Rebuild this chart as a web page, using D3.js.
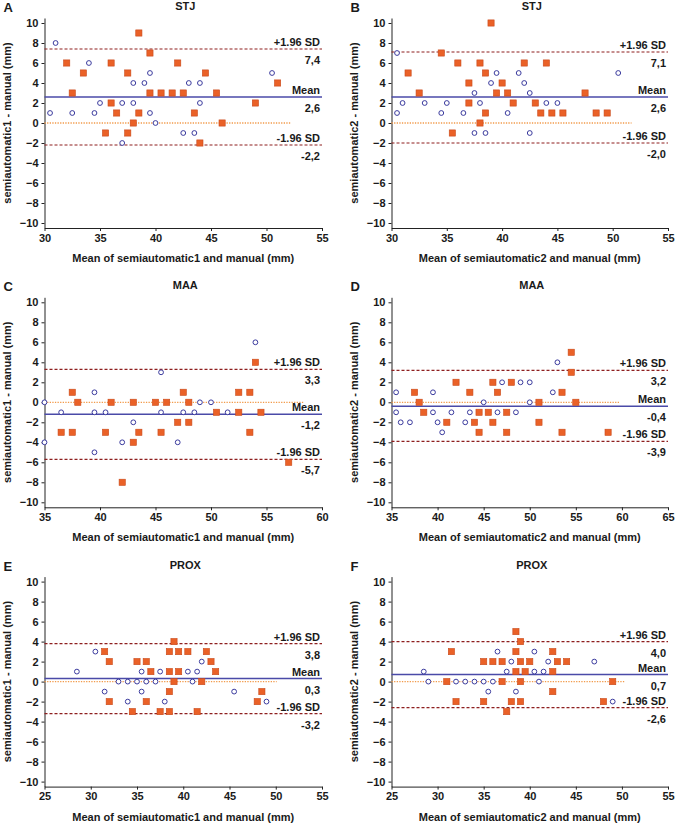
<!DOCTYPE html>
<html><head><meta charset="utf-8">
<script src="https://cdn.jsdelivr.net/npm/d3@7/dist/d3.min.js"></script>
<style>body{margin:0;background:#fff}svg text{font-family:"Liberation Sans",Arial,sans-serif;font-weight:bold;fill:#1a1a1a}</style>
</head><body><svg id="c" width="677" height="823"></svg>
<script>
// ---- data: [mean of methods (mm), difference (mm)] ----
const A_sq = [[38.5,9],[39.5,7],[32,6],[36,6],[42,6],[33.5,5],[37.5,5],[44.5,5],[51,4],[32.5,3],[39.5,3],[40.5,3],[41.5,3],[42.5,3],[45.5,3],[36,2],[49,2],[36.5,1],[38.5,1],[43.5,1],[38,0],[46,0],[35.5,-1],[37.5,-1],[44,-2]];
const A_ci = [[31,8],[34,6],[39.5,5],[50.5,5],[38,4],[39,4],[43,4],[44,4],[35,2],[37,2],[38,2],[44,2],[30.5,1],[32.5,1],[34.5,1],[39.5,1],[40,0],[42.5,-1],[43.5,-1],[37,-2]];
const B_sq = [[39,10],[34.5,7],[36,6],[38,6],[42,6],[44,6],[31.5,5],[38.5,5],[37,4],[40,4],[32.5,3],[39.5,3],[40.5,3],[47.5,3],[37,2],[41,2],[43,2],[38.5,1],[43.5,1],[44.5,1],[45.5,1],[48.5,1],[49.5,1],[38,0],[35.5,-1]];
const B_ci = [[30.5,7],[39.5,5],[41.5,5],[50.5,5],[39,4],[42,4],[37.5,3],[42.5,3],[31,2],[33,2],[35,2],[38,2],[44,2],[45,2],[30.5,1],[34.5,1],[36.5,1],[40.5,1],[37.5,-1],[38.5,-1],[42.5,-1]];
const C_sq = [[54,4],[37.5,1],[47.5,1],[52.5,1],[53.5,1],[38,0],[41,0],[43,0],[45,0],[46,0],[48,0],[50.5,-1],[52.5,-1],[54.5,-1],[47,-2],[48,-2],[36.5,-3],[37.5,-3],[40.5,-3],[43.5,-3],[45.5,-3],[53.5,-3],[43,-4],[57,-6],[42,-8]];
const C_ci = [[54,6],[45.5,3],[39.5,1],[49,0],[50,0],[35,0],[36.5,-1],[39.5,-1],[40.5,-1],[45.5,-1],[47.5,-1],[48.5,-1],[51.5,-1],[43,-2],[35,-4],[42,-4],[47,-4],[39.5,-5]];
const D_sq = [[54.5,5],[54.5,3],[42,2],[46,2],[48,2],[37.5,1],[43.5,1],[46.5,1],[53.5,1],[38,0],[51,0],[55,0],[38.5,-1],[44.5,-1],[45.5,-1],[47.5,-1],[41,-2],[44,-2],[46,-2],[51,-2],[44.5,-3],[47.5,-3],[53.5,-3],[58.5,-3]];
const D_ci = [[53,4],[47,2],[49,2],[50,2],[35.5,1],[39.5,1],[52.5,1],[45,0],[50,0],[35.5,-1],[39.5,-1],[41.5,-1],[43.5,-1],[46.5,-1],[48.5,-1],[36,-2],[37,-2],[40,-2],[43,-2],[40.5,-3]];
const E_sq = [[39,4],[31.5,3],[38.5,3],[39.5,3],[40.5,3],[42.5,3],[32,2],[35,2],[36,2],[43,2],[36.5,1],[38.5,1],[39.5,1],[43.5,1],[39,0],[42,0],[38.5,-1],[48.5,-1],[32,-2],[36,-2],[48,-2],[34.5,-3],[37.5,-3],[38.5,-3],[41.5,-3]];
const E_ci = [[30.5,3],[42,2],[28.5,1],[35.5,1],[37.5,1],[40.5,1],[41.5,1],[33,0],[34,0],[35,0],[36,0],[37,0],[41,0],[31.5,-1],[35.5,-1],[45.5,-1],[34,-2],[38,-2],[49,-2]];
const F_sq = [[38.5,5],[39,4],[31.5,3],[38.5,3],[42.5,3],[35,2],[36,2],[37,2],[39,2],[40,2],[43,2],[44,2],[38.5,1],[39.5,1],[42.5,1],[31,0],[37,0],[39,0],[49,0],[42.5,-1],[32,-2],[35,-2],[38,-2],[39,-2],[48,-2],[37.5,-3]];
const F_ci = [[36.5,3],[40.5,3],[38,2],[42,2],[47,2],[28.5,1],[37.5,1],[40.5,1],[41.5,1],[29,0],[32,0],[33,0],[34,0],[35,0],[36,0],[41,0],[35.5,-1],[38.5,-1],[49,-2]];

const panelLetters = ["A","B","C","D","E","F"];
const panelTitles = ["STJ","STJ","MAA","MAA","PROX","PROX"];
const xDomains = [[30,55],[30,55],[35,60],[35,65],[25,55],[25,55]];
const xTickValues = [[30,35,40,45,50,55],[30,35,40,45,50,55],[35,40,45,50,55,60],[35,40,45,50,55,60,65],[25,30,35,40,45,50,55],[25,30,35,40,45,50,55]];
const yTickValues = [-10,-8,-6,-4,-2,0,2,4,6,8,10];
const xTitles = ["Mean of semiautomatic1 and manual (mm)","Mean of semiautomatic2 and manual (mm)","Mean of semiautomatic1 and manual (mm)","Mean of semiautomatic2 and manual (mm)","Mean of semiautomatic1 and manual (mm)","Mean of semiautomatic2 and manual (mm)"];
const yTitles = ["semiautomatic1 - manual (mm)","semiautomatic2 - manual (mm)","semiautomatic1 - manual (mm)","semiautomatic2 - manual (mm)","semiautomatic1 - manual (mm)","semiautomatic2 - manual (mm)"];
const meanDiff = [2.6,2.6,-1.2,-0.4,0.3,0.7];
const upperLoA = [7.4,7.1,3.3,3.2,3.8,4.0];
const lowerLoA = [-2.2,-2.0,-5.7,-3.9,-3.2,-2.6];
const zeroLineEnd = [52.2,51.7,58.4,59.8,50.1,50.3];
const squares = [A_sq,B_sq,C_sq,D_sq,E_sq,F_sq];
const circles = [A_ci,B_ci,C_ci,D_ci,E_ci,F_ci];

const svg = d3.select("#c");
const fmt = v => v.toFixed(1).replace(".", ",");
const colLeft = [44.5, 391.5], colRight = [322, 668];
const rowZero = [123, 402.3, 681.6];

for (let i = 0; i < 6; i++) {
  const c = i % 2, r = Math.floor(i / 2);
  const x = d3.scaleLinear().domain(xDomains[i]).range([colLeft[c], colRight[c]]);
  const y = d3.scaleLinear().domain([-10.5, 10.5]).range([rowZero[r] + 105, rowZero[r] - 105]);
  const g = svg.append("g");
  const x0 = colLeft[c], x1 = colRight[c], yb = y(-10.5);

  const xa = g.append("g").attr("transform", `translate(0,${yb})`)
    .call(d3.axisBottom(x).tickValues(xTickValues[i]).tickSize(3).tickSizeOuter(0).tickPadding(3));
  const ya = g.append("g").attr("transform", `translate(${x0},0)`)
    .call(d3.axisLeft(y).tickValues(yTickValues).tickSize(3).tickSizeOuter(0).tickPadding(3));
  [xa, ya].forEach(a => {
    a.selectAll("path,line").attr("stroke", "#222").attr("stroke-width", 1);
    a.selectAll("text").style("font-size", "11px").style("font-weight", "bold").attr("fill", "#222");
  });

  g.append("line").attr("x1", x0).attr("x2", x(zeroLineEnd[i])).attr("y1", y(0)).attr("y2", y(0))
    .attr("stroke", "#F29B4C").attr("stroke-width", 1.3).attr("stroke-dasharray", "1.3,1.3");
  [upperLoA[i], lowerLoA[i]].forEach(v => {
    g.append("line").attr("x1", x0).attr("x2", x1).attr("y1", y(v)).attr("y2", y(v))
      .attr("stroke", "#8E1F1F").attr("stroke-width", 1.2).attr("stroke-dasharray", "3,2");
  });
  g.append("line").attr("x1", x0).attr("x2", x1).attr("y1", y(meanDiff[i])).attr("y2", y(meanDiff[i]))
    .attr("stroke", "#4A4AA8").attr("stroke-width", 1.5);

  const lab = (txt, yy) => g.append("text").attr("x", x1 - 2).attr("y", yy).attr("text-anchor", "end").style("font-size", "11px").text(txt);
  lab("+1.96 SD", y(upperLoA[i]) - 3); lab(fmt(upperLoA[i]), y(upperLoA[i]) + 15);
  lab("Mean", y(meanDiff[i]) - 3); lab(fmt(meanDiff[i]), y(meanDiff[i]) + 15);
  lab("-1.96 SD", y(lowerLoA[i]) - 3); lab(fmt(lowerLoA[i]), y(lowerLoA[i]) + 15);

  g.selectAll(".ci").data(circles[i]).join("circle")
    .attr("cx", d => x(d[0])).attr("cy", d => y(d[1])).attr("r", 2.4)
    .attr("fill", "#fff").attr("stroke", "#3B3B9E").attr("stroke-width", 1);
  g.selectAll(".sq").data(squares[i]).join("rect")
    .attr("x", d => x(d[0]) - 3.1).attr("y", d => y(d[1]) - 3.1).attr("width", 6.2).attr("height", 6.2)
    .attr("fill", "#EA6127").attr("stroke", "#C9491A").attr("stroke-width", 0.6);

  g.append("text").attr("x", (x0 + x1) / 2 + 2).attr("y", rowZero[r] - 113).attr("text-anchor", "middle").style("font-size", "11px").text(panelTitles[i]);
  g.append("text").attr("x", (x0 + x1) / 2).attr("y", yb + 34).attr("text-anchor", "middle").style("font-size", "11px").text(xTitles[i]);
  g.append("text").attr("transform", `translate(${x0 - 34},${rowZero[r]}) rotate(-90)`).attr("text-anchor", "middle").style("font-size", "11px").text(yTitles[i]);
  g.append("text").attr("x", x0 - 41).attr("y", rowZero[r] - 111).style("font-size", "13px").text(panelLetters[i]);
}
</script></body></html>
